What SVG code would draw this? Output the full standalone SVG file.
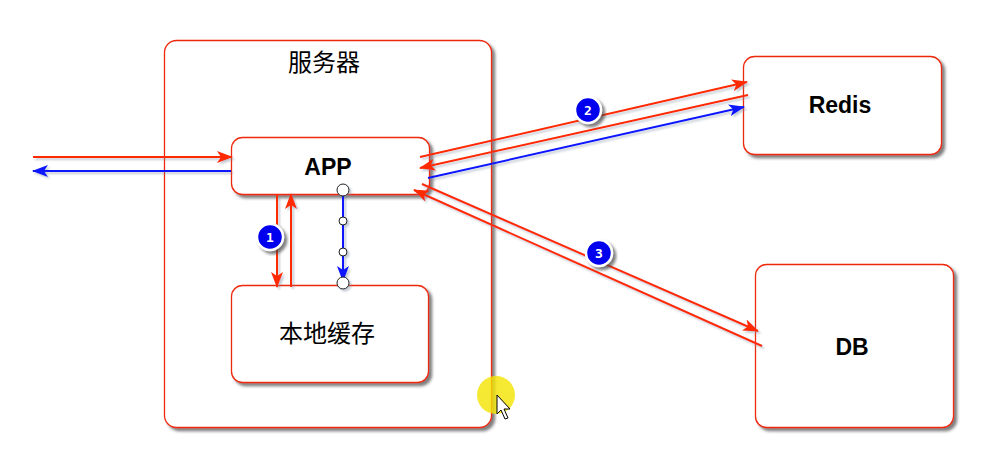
<svg xmlns="http://www.w3.org/2000/svg" width="993" height="468" viewBox="0 0 993 468">
<defs>
<filter id="sh" x="-10%" y="-10%" width="130%" height="130%">
<feDropShadow dx="3" dy="3" stdDeviation="1.5" flood-color="#444" flood-opacity="0.7"/>
</filter>
<filter id="lsh" x="-10%" y="-10%" width="130%" height="130%">
<feDropShadow dx="2" dy="2" stdDeviation="1.2" flood-color="#789" flood-opacity="0.45"/>
</filter>
<marker id="ar" viewBox="0 0 16 12" refX="15" refY="6" markerWidth="16" markerHeight="12" markerUnits="userSpaceOnUse" orient="auto">
<path d="M0,0 L16,6 L0,12 L4,6 z" fill="#ff2a00"/>
</marker>
<marker id="ab" viewBox="0 0 16 12" refX="15" refY="6" markerWidth="16" markerHeight="12" markerUnits="userSpaceOnUse" orient="auto">
<path d="M0,0 L16,6 L0,12 L4,6 z" fill="#0a14ff"/>
</marker>
</defs>
<style>
.box{fill:#fff;stroke:#ee2a10;stroke-width:1.3;filter:url(#sh)}
.lbl{font-family:"Liberation Sans",Arial,sans-serif;font-weight:bold;font-size:23px;fill:#000;text-anchor:middle}
.cjk{font-family:"Noto Sans CJK SC","Liberation Sans",sans-serif;font-size:24px;fill:#000;text-anchor:middle}
.r{stroke:#ff2a00;stroke-width:2;fill:none}
.b{stroke:#0a14ff;stroke-width:2;fill:none}
.badge circle{fill:#0000ee;stroke:#fff;stroke-width:2.5;filter:url(#sh)}
.badge text{font-family:"DejaVu Sans Mono","Liberation Mono",monospace;font-size:13px;font-weight:bold;fill:#fff;text-anchor:middle}
.dot{fill:#fff;stroke:#222;stroke-width:1}
</style>
<rect width="993" height="468" fill="#fff"/>
<g id="server">
<rect class="box" x="164.5" y="40.5" width="327" height="387" rx="12"/>
<text class="cjk" x="324" y="71">服务器</text>
</g>
<g id="app">
<rect class="box" x="231.5" y="137.5" width="198" height="57" rx="11"/>
<text class="lbl" x="328" y="175">APP</text>
</g>
<g id="cache">
<rect class="box" x="231.5" y="285.5" width="197" height="97" rx="11"/>
<text class="cjk" x="327" y="342">本地缓存</text>
</g>
<g id="redis">
<rect class="box" x="743.5" y="56.5" width="198" height="98" rx="11"/>
<text class="lbl" x="840" y="113">Redis</text>
</g>
<g id="db">
<rect class="box" x="755.5" y="264.5" width="198" height="163" rx="11"/>
<text class="lbl" x="852" y="355">DB</text>
</g>
<g id="connectors" filter="url(#lsh)">
<line class="r" x1="33" y1="157" x2="232" y2="157" marker-end="url(#ar)"/>
<line class="b" x1="231" y1="171" x2="33" y2="171" marker-end="url(#ab)"/>
<line class="r" x1="277" y1="195" x2="277" y2="287" marker-end="url(#ar)"/>
<line class="r" x1="291" y1="287" x2="291" y2="194" marker-end="url(#ar)"/>
<line class="b" x1="343" y1="190" x2="343" y2="281" marker-end="url(#ab)"/>
<circle class="dot" cx="343" cy="190" r="6"/>
<circle class="dot" cx="343" cy="221" r="4"/>
<circle class="dot" cx="343" cy="252" r="4"/>
<circle class="dot" cx="343" cy="283" r="6"/>
<line class="r" x1="420" y1="157" x2="747" y2="82" marker-end="url(#ar)"/>
<line class="r" x1="748" y1="95" x2="420" y2="168" marker-end="url(#ar)"/>
<line class="b" x1="428" y1="178" x2="744" y2="107" marker-end="url(#ab)"/>
<line class="r" x1="422" y1="184" x2="758" y2="331" marker-end="url(#ar)"/>
<line class="r" x1="762" y1="346" x2="414" y2="190" marker-end="url(#ar)"/>
</g>
<g id="badge1" class="badge"><circle cx="270" cy="237" r="13"/><text x="270" y="241.5">1</text></g>
<g id="badge2" class="badge"><circle cx="588" cy="110" r="13"/><text x="588" y="114.5">2</text></g>
<g id="badge3" class="badge"><circle cx="599" cy="253" r="13"/><text x="599" y="257.5">3</text></g>
<g id="cursor">
<circle cx="496" cy="395" r="19" fill="#f2e400" opacity="0.8"/>
<path d="M497,395 L497,414 L501,410 L505,419 L508,418 L504,409 L510,409 Z" fill="#fff" stroke="#000" stroke-width="1"/>
</g>
</svg>
